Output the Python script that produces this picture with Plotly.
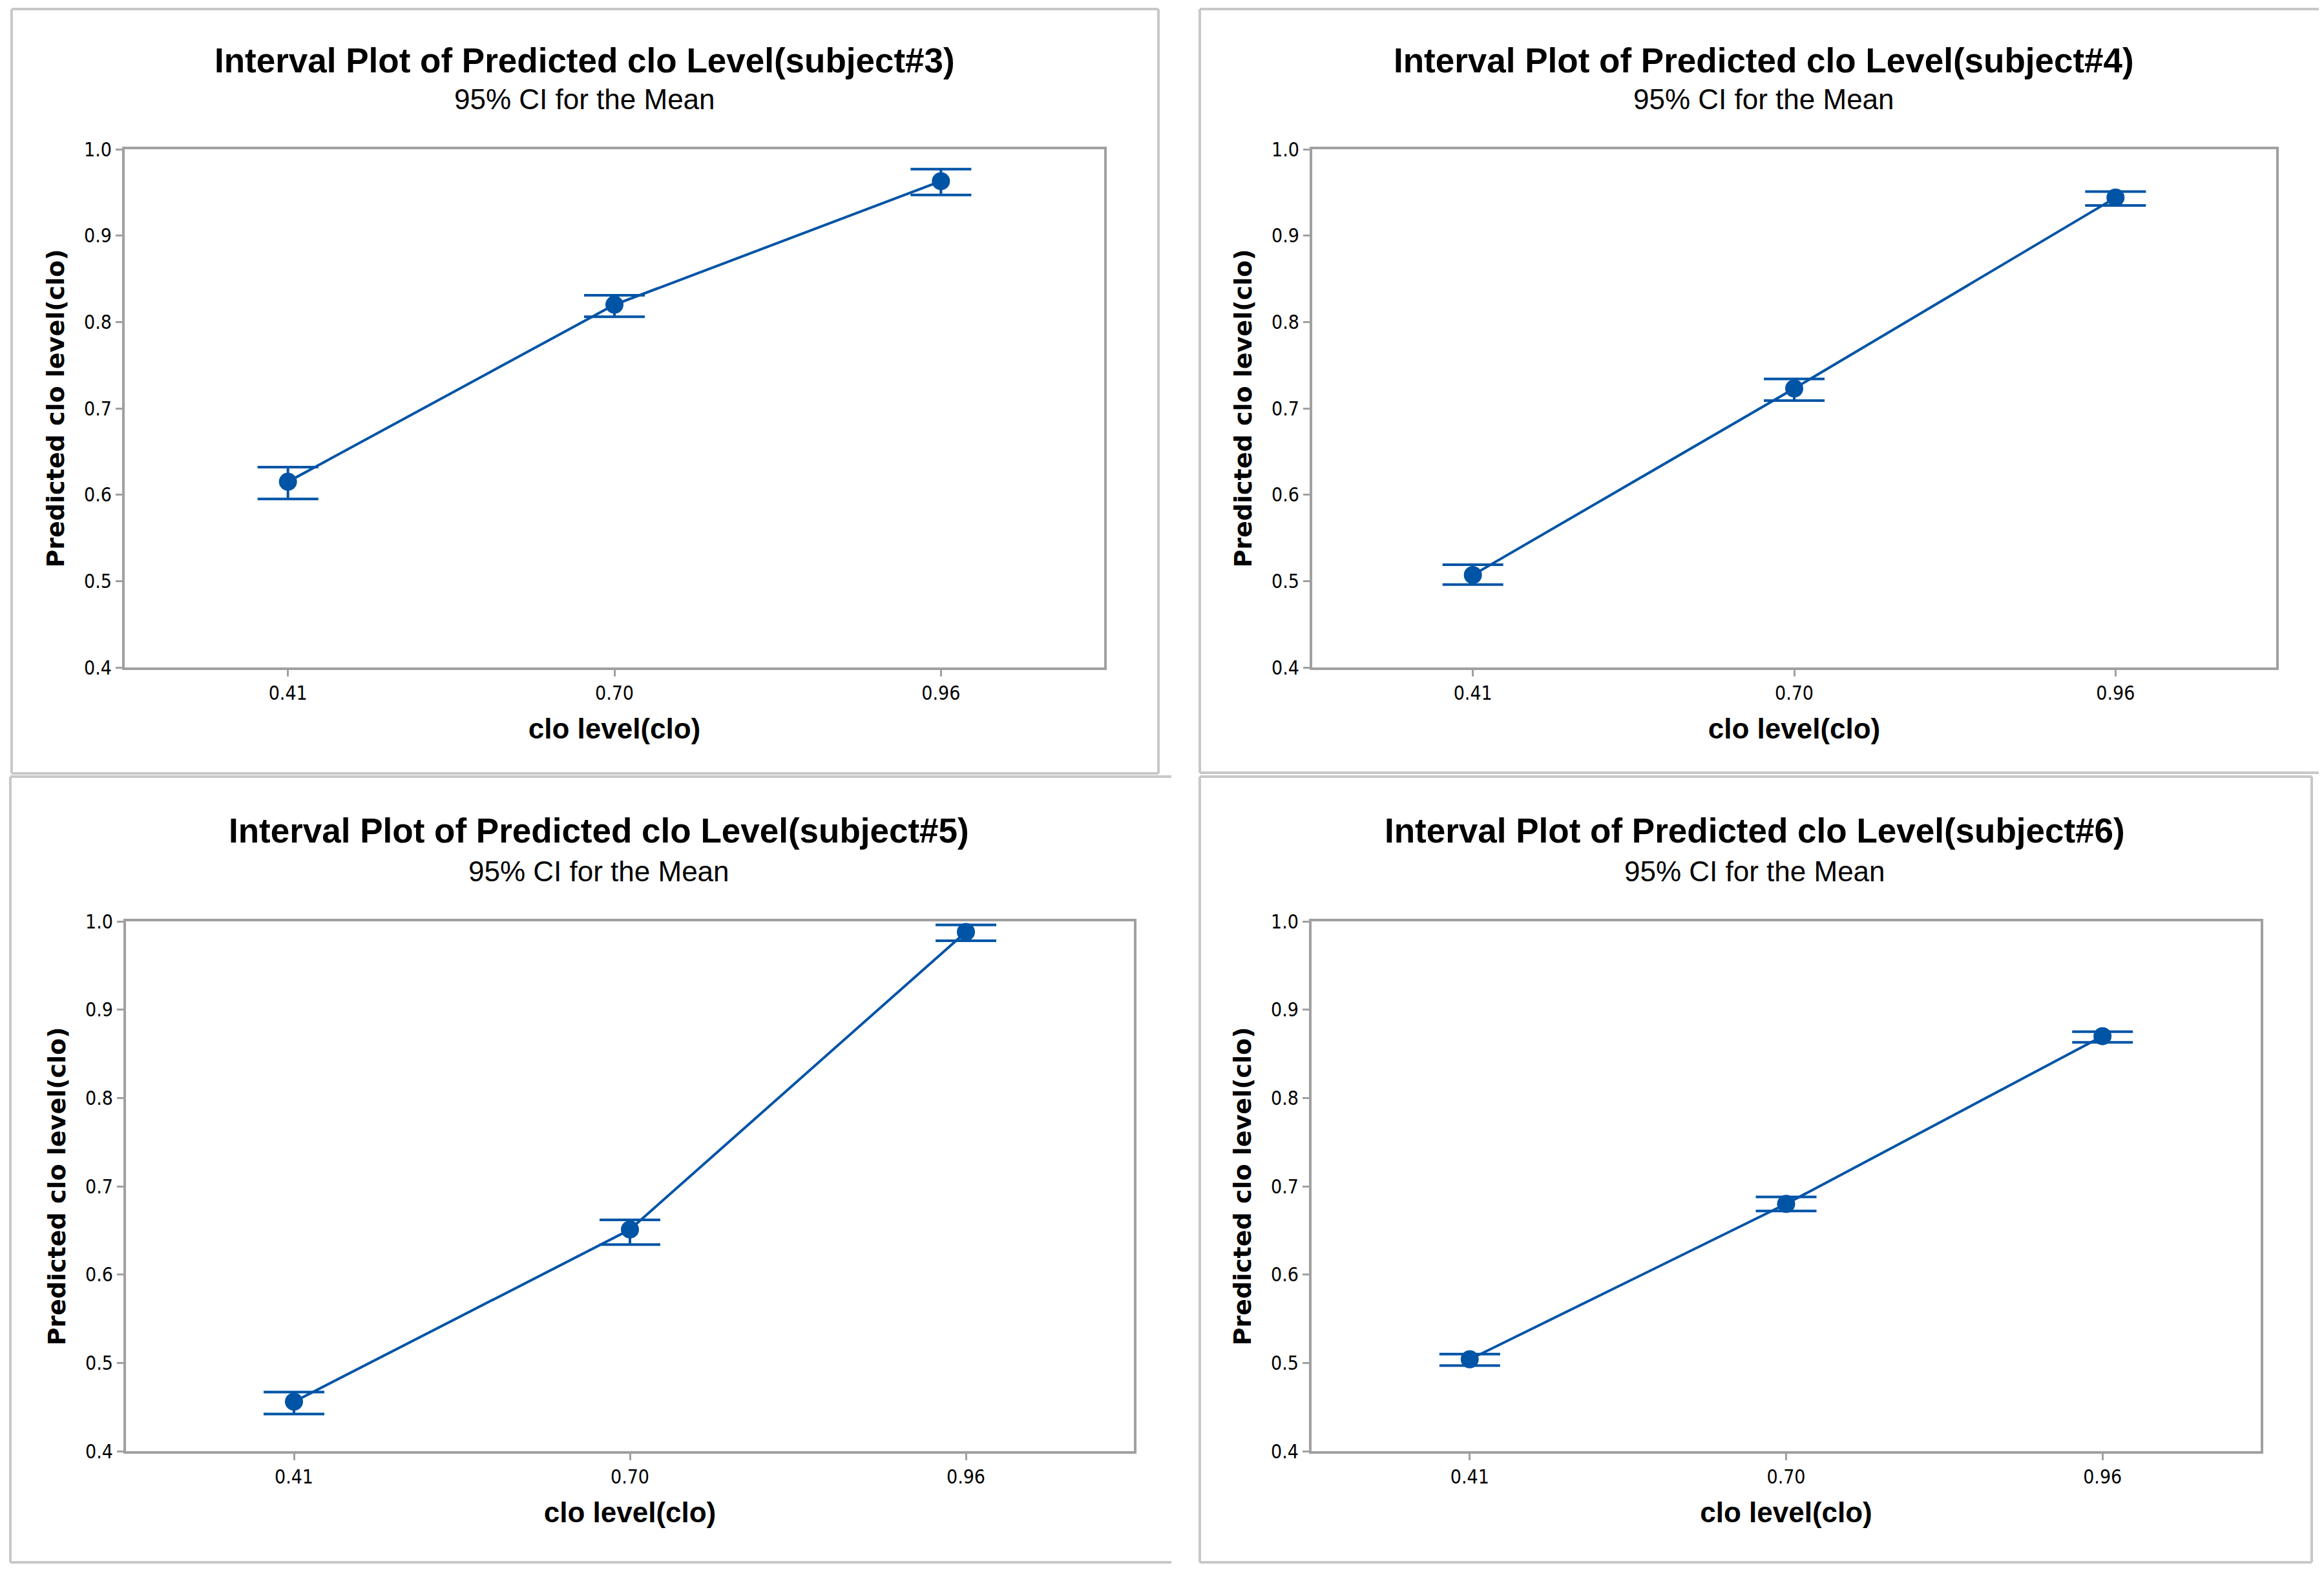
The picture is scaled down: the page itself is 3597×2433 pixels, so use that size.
import plotly.graph_objects as go

# ---------------- data ----------------
clo_levels = ["0.41", "0.70", "0.96"]
subjects = ["subject#3", "subject#4", "subject#5", "subject#6"]

mean_s3 = [0.615, 0.820, 0.963]
upper_s3 = [0.632, 0.831, 0.977]
lower_s3 = [0.595, 0.806, 0.947]

mean_s4 = [0.507, 0.723, 0.944]
upper_s4 = [0.519, 0.734, 0.951]
lower_s4 = [0.496, 0.709, 0.935]

mean_s5 = [0.456, 0.651, 0.988]
upper_s5 = [0.467, 0.662, 0.996]
lower_s5 = [0.442, 0.634, 0.978]

mean_s6 = [0.504, 0.680, 0.870]
upper_s6 = [0.510, 0.688, 0.875]
lower_s6 = [0.497, 0.672, 0.863]

y_ticks = [0.4, 0.5, 0.6, 0.7, 0.8, 0.9, 1.0]

title_prefix = "Interval Plot of Predicted clo Level"
subtitle_text = "95% CI for the Mean"
x_title = "clo level(clo)"
y_title = "Predicted clo level(clo)"

# ---------------- layout helpers ----------------
W, H = 3597, 2433
OFF = 8  # page body margin
BLUE = "#0054a6"
AXIS_GRAY = "#a0a0a0"
PANEL_GRAY = "#c8c8c8"
TICKFONT = "DejaVu Sans Condensed, Liberation Sans, Arial, sans-serif"
REG = "Liberation Sans, Arial, sans-serif"


def fx(p):
    return (p - OFF) / W


def fy(p):
    return 1 - (p - OFF) / H


# plot areas in pixels: (x0, x1, y0_top, y1_bottom)
areas = [
    (193, 1709, 231, 1033),
    (2031, 3523, 231, 1033),
    (195, 1755, 1426, 2246),
    (2030, 3499, 1426, 2246),
]
title_pos = [(905, 93, 154), (2730, 93, 154), (927, 1285, 1348), (2716, 1285, 1348)]

series = [
    (mean_s3, upper_s3, lower_s3),
    (mean_s4, upper_s4, lower_s4),
    (mean_s5, upper_s5, lower_s5),
    (mean_s6, upper_s6, lower_s6),
]

fig = go.Figure()
annotations = []
layout_axes = {}

for i, ((m, up, lo), subj, area, tp) in enumerate(zip(series, subjects, areas, title_pos)):
    n = "" if i == 0 else str(i + 1)
    err_plus = [u - v for u, v in zip(up, m)]
    err_minus = [v - l for v, l in zip(m, lo)]
    fig.add_trace(go.Scatter(
        x=clo_levels, y=m,
        mode="lines+markers",
        line=dict(color=BLUE, width=4),
        marker=dict(color=BLUE, size=28),
        error_y=dict(type="data", symmetric=False, array=err_plus, arrayminus=err_minus,
                     color=BLUE, thickness=4, width=47),
        xaxis="x" + n, yaxis="y" + n,
        showlegend=False,
        name=subj,
    ))
    x0, x1, yt, yb = area
    common = dict(showline=True, linecolor=AXIS_GRAY, linewidth=4, mirror=True,
                  showgrid=False, zeroline=False, ticks="outside", ticklen=10,
                  tickwidth=3, tickcolor=AXIS_GRAY, automargin=False,
                  tickfont=dict(family=TICKFONT, size=30, color="black"))
    layout_axes["xaxis" + n] = dict(
        domain=[fx(x0), fx(x1)], anchor="y" + n, type="category",
        range=[-0.5, 2.5],
        title=dict(text=x_title, font=dict(family=REG, size=44, color="black", weight="bold"),
                   standoff=24),
        **common)
    layout_axes["yaxis" + n] = dict(
        domain=[fy(yb), fy(yt)], anchor="x" + n,
        range=[0.4, 1.0], tickvals=y_ticks, tickformat=".1f",
        title=dict(text=y_title, font=dict(family="DejaVu Sans", size=38, color="black", weight="bold"),
                   standoff=20),
        **common)
    cx, ty, sy = tp
    annotations.append(dict(text=f"{title_prefix}({subj})", x=fx(cx), y=fy(ty),
                            xref="paper", yref="paper", xanchor="center", yanchor="middle",
                            showarrow=False,
                            font=dict(family=REG, size=53, color="black", weight="bold")))
    annotations.append(dict(text=subtitle_text, x=fx(cx), y=fy(sy),
                            xref="paper", yref="paper", xanchor="center", yanchor="middle",
                            showarrow=False,
                            font=dict(family=REG, size=44, color="black")))

# panel frames (light gray)
def seg(xa, ya, xb, yb):
    return dict(type="line", xref="paper", yref="paper",
                x0=fx(xa), y0=fy(ya), x1=fx(xb), y1=fy(yb),
                line=dict(color=PANEL_GRAY, width=4))

shapes = [
    # panel 1
    seg(18, 14, 1793, 14), seg(18, 1197, 1793, 1197), seg(18, 14, 18, 1197), seg(1793, 14, 1793, 1197),
    # panel 2
    seg(1857, 14, 3610, 14), seg(1857, 1196, 3610, 1196), seg(1857, 14, 1857, 1196),
    # panel 3
    seg(16, 1202, 1813, 1202), seg(16, 2418, 1813, 2418), seg(16, 1202, 16, 2418),
    # panel 4
    seg(1857, 1202, 3578, 1202), seg(1857, 2418, 3578, 2418), seg(1857, 1202, 1857, 2418),
    seg(3578, 1202, 3578, 2418),
]

fig.update_layout(
    width=W, height=H,
    margin=dict(l=0, r=0, t=0, b=0, autoexpand=False),
    paper_bgcolor="white", plot_bgcolor="white",
    annotations=annotations,
    shapes=shapes,
    **layout_axes,
)

fig.write_html("out.html")
